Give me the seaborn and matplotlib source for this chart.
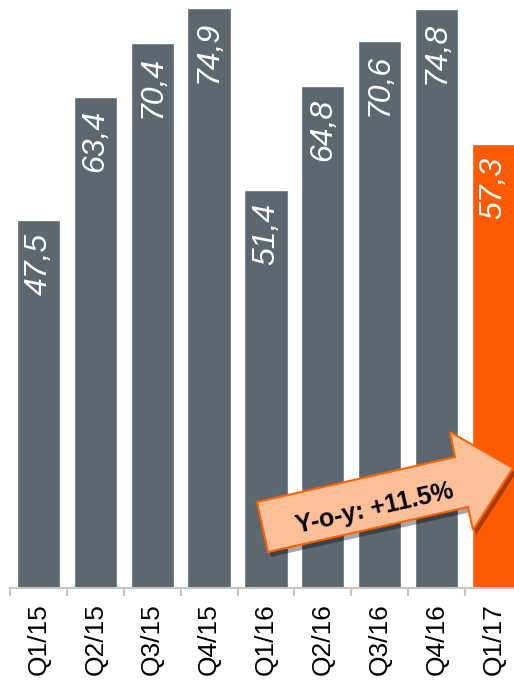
import matplotlib
matplotlib.use("Agg")
import matplotlib.pyplot as plt
import seaborn as sns
import pandas as pd
from matplotlib.patches import Polygon

quarters = ["Q1/15", "Q2/15", "Q3/15", "Q4/15", "Q1/16", "Q2/16", "Q3/16", "Q4/16", "Q1/17"]
values = [47.5, 63.4, 70.4, 74.9, 51.4, 64.8, 70.6, 74.8, 57.3]
value_labels = ["47,5", "63,4", "70,4", "74,9", "51,4", "64,8", "70,6", "74,8", "57,3"]
growth_label = "Y-o-y: +11.5%"

GREY = "#5c6770"
ORANGE = "#ff5a00"
bar_colors = [GREY] * 8 + [ORANGE]

sns.set_theme(style="white")
plt.rcParams["font.family"] = ["Liberation Sans", "DejaVu Sans"]

W, H = 514, 683
fig = plt.figure(figsize=(W / 100, H / 100), dpi=100)
ax = fig.add_axes([10 / W, 1 - 588 / H, 1 - 10 / W, 588 / H])

df = pd.DataFrame({"quarter": quarters, "value": values})
sns.barplot(data=df, x="quarter", y="value", hue="quarter", palette=bar_colors,
            width=0.76, legend=False, ax=ax, saturation=1)

ax.set_xlim(-0.5, 8.36)
ax.set_ylim(0, 75.9)
ax.set_xlabel("")
ax.set_ylabel("")
ax.set_yticks([])

for s in ["top", "right", "left"]:
    ax.spines[s].set_visible(False)
ax.spines["bottom"].set_color("#c4c4c4")
ax.spines["bottom"].set_linewidth(1.5)

# category labels at bar centres, separator ticks between categories
ax.set_xticks(range(len(quarters)))
ax.set_xticklabels(quarters, rotation=90, fontsize=19, color="black")
ax.tick_params(axis="x", which="major", length=0, pad=11)
ax.set_xticks([i - 0.5 for i in range(len(quarters))], minor=True)
ax.tick_params(axis="x", which="minor", length=6, width=1.5, color="#c4c4c4",
               direction="out", bottom=True)
for lbl in ax.get_xticklabels():
    lbl.set_verticalalignment("top")
    lbl.set_horizontalalignment("center")

# value labels inside the top of each bar
for i, (v, t) in enumerate(zip(values, value_labels)):
    ax.annotate(t, xy=(i, v), xytext=(0, -9.5), textcoords="offset points",
                rotation=90, ha="center", va="top", color="white",
                fontsize=23, fontstyle="italic")

# growth arrow with drop shadow
arrow_px = [(257, 502), (455, 457), (450, 432), (513, 468),
            (473, 530), (468, 507), (268, 552)]

def to_fig(pts, dx=0, dy=0):
    return [((x + dx) / W, 1 - (y + dy) / H) for x, y in pts]

shadow = Polygon(to_fig(arrow_px, 3, 5), closed=True, transform=fig.transFigure,
                 facecolor="black", edgecolor="none", alpha=0.35, zorder=5)
fig.patches.append(shadow)
arrow = Polygon(to_fig(arrow_px), closed=True, transform=fig.transFigure,
                facecolor="#ffbf99", edgecolor="#ff6200", linewidth=1.5, zorder=6)
fig.patches.append(arrow)
fig.text(375 / W, 1 - 508 / H, growth_label, rotation=12.8, rotation_mode="anchor",
         ha="center", va="center", fontsize=18, fontweight="bold", color="black",
         zorder=7)

fig.savefig("out.png", dpi=100)
